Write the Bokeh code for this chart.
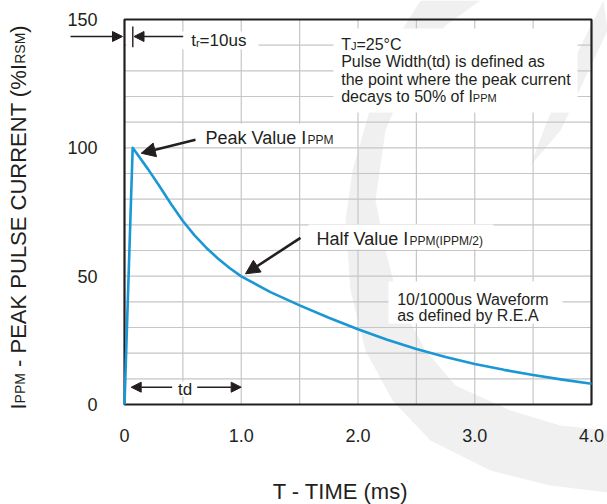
import math
import numpy as np
from bokeh.plotting import figure
from bokeh.models import FixedTicker, Label, Arrow, NormalHead
from bokeh.embed import file_html
from bokeh.resources import INLINE

# ---- data ----
time_ms = [0, 0.07, 0.2, 0.3, 0.4, 0.5, 0.6, 0.7, 0.8, 0.9, 1.0, 1.25, 1.5,
           1.75, 2.0, 2.25, 2.5, 2.75, 3.0, 3.25, 3.5, 3.75, 4.0]
current_pct = [0, 100, 91.8, 85.0, 78.0, 71.5, 65.9, 61.1, 56.9, 53.2, 49.9,
               43.8, 38.6, 33.8, 29.3, 25.2, 21.6, 18.5, 15.8, 13.5, 11.5, 9.7, 8.1]
x_ticks = [0, 1, 2, 3, 4]
x_tick_labels = ["0", "1.0", "2.0", "3.0", "4.0"]
y_ticks = [0, 50, 100, 150]
y_tick_labels = ["0", "50", "100", "150"]

FONT = "Liberation Sans"
INK = "#231f20"
BLUE = "#1a97d5"
GRID = "#c6c6c6"
WATERMARK = "#f0f0f0"

# picture-pixel -> data helpers (plot box: x 124..591, y 19..404 in the picture)
def X(xr):
    return (xr - 124.0) * 4.0 / 467.0

def Y(yr):
    return (404.0 - yr) * 150.0 / 385.0

AW = {' ': 278, '(': 333, ')': 333, '%': 889, '-': 333, '.': 278, '/': 278,
      '=': 584, '°': 400, 'A': 667, 'C': 722, 'E': 667, 'H': 722, 'I': 278,
      'J': 500, 'K': 667, 'L': 556, 'M': 833, 'N': 722, 'P': 667, 'R': 722,
      'S': 667, 'T': 611, 'U': 722, 'V': 667, 'W': 944, 'a': 556, 'c': 500,
      'd': 556, 'e': 556, 'f': 278, 'h': 556, 'i': 222, 'k': 500, 'l': 222,
      'm': 833, 'n': 556, 'o': 556, 'p': 556, 'r': 333, 's': 500, 't': 278,
      'u': 556, 'v': 500, 'w': 722, 'y': 500, 'b': 556}

def tw(s, size):
    return sum(AW.get(c, 556) for c in s) * size / 1000.0

p = figure(width=607, height=504, x_range=(X(0), X(607)), y_range=(Y(504), Y(0)),
           output_backend="svg", toolbar_location=None, min_border=0)
p.background_fill_color = "white"
p.border_fill_color = "white"
p.outline_line_color = None
p.xgrid.visible = False
p.ygrid.visible = False

p.xaxis.ticker = FixedTicker(ticks=x_ticks)
p.yaxis.ticker = FixedTicker(ticks=y_ticks)
p.xaxis.major_label_overrides = {t: l for t, l in zip(x_ticks, x_tick_labels)}
p.yaxis.major_label_overrides = {t: l for t, l in zip(y_ticks, y_tick_labels)}
p.xaxis.fixed_location = 0
p.yaxis.fixed_location = 0
for ax in (p.xaxis, p.yaxis):
    ax.axis_line_color = None
    ax.major_tick_line_color = None
    ax.minor_tick_line_color = None
    ax.major_label_text_font = FONT
    ax.major_label_text_font_size = "18px"
    ax.major_label_text_color = INK
p.xaxis.major_label_standoff = 18
p.yaxis.major_label_standoff = 21

# faint background watermark (decoration)
wm_outer = [(420, 0), (395, 40), (372, 100), (352, 170), (345, 220), (350, 290),
            (365, 350), (392, 400), (430, 440), (490, 470), (550, 485), (607, 492)]
wm_inner = [(607, 430), (560, 425), (510, 410), (455, 385), (425, 350), (398, 300),
            (385, 250), (375, 200), (385, 130), (410, 70), (445, 25), (480, 0)]
wm = wm_outer + wm_inner
p.patch([X(a) for a, b in wm], [Y(b) for a, b in wm], fill_color=WATERMARK,
        line_color=None)
wm2 = [(603, 0), (573, 60), (545, 125), (530, 165), (560, 130), (607, 30)]
p.patch([X(a) for a, b in wm2], [Y(b) for a, b in wm2], fill_color=WATERMARK,
        line_color=None)

# grid lines every 0.5 ms and every 10 %
gx = np.arange(0.5, 4.0, 0.5)
gy = np.arange(10, 150, 10)
p.segment(x0=gx, y0=0, x1=gx, y1=150, line_color=GRID, line_width=1.2)
p.segment(x0=0, y0=gy, x1=4, y1=gy, line_color=GRID, line_width=1.2)

# white backgrounds behind the annotation texts
boxes = [(126, 258, 31, 49), (333, 577, 28, 112), (197, 334, 123, 146.5),
         (308, 493, 224, 249), (388, 562, 281, 323), (172, 196, 381, 396)]
p.quad(left=[X(b[0]) for b in boxes], right=[X(b[1]) for b in boxes],
       top=[Y(b[2]) for b in boxes], bottom=[Y(b[3]) for b in boxes],
       fill_color="white", line_color=None)

# plot box
p.quad(left=[0], right=[4], bottom=[0], top=[150], fill_color=None,
       line_color=INK, line_width=2.2)

# waveform
p.line(time_ms, current_pct, line_color=BLUE, line_width=2.6, line_join="round")

# tr marker
p.segment(x0=[X(132.3)], y0=[Y(26)], x1=[X(132.3)], y1=[Y(46.7)],
          line_color=INK, line_width=1.4)

def head(s):
    return NormalHead(size=s, fill_color=INK, line_color=INK, line_width=1)

def arrow(x0, y0, x1, y1, lw, hs):
    p.add_layout(Arrow(end=head(hs), x_start=X(x0), y_start=Y(y0),
                       x_end=X(x1), y_end=Y(y1), line_color=INK, line_width=lw))

arrow(70, 36, 122, 36, 1.6, 10)
arrow(182.7, 36, 133.5, 36, 1.6, 10)
arrow(195, 139.3, 140.7, 152.7, 2.6, 14)
arrow(300, 237.3, 245, 273.3, 2.6, 14)
arrow(171.7, 386.7, 130.7, 386.7, 1.6, 10)
arrow(196.7, 386.7, 240.7, 386.7, 1.6, 10)

SHIFT = 0.27  # rendered alphabetic baseline sits ~0.27em low; compensate

def run(pieces, xr, yr, vertical=False, align="left"):
    total = sum(tw(t, s) for t, s in pieces)
    pos = -total / 2 if align == "center" else 0.0
    for text, size in pieces:
        core = text.lstrip(" ")
        pos += tw(text[:len(text) - len(core)], size)
        core_r = core.rstrip(" ")
        d = SHIFT * size
        if vertical:
            lab = Label(x=X(xr - d), y=Y(yr - pos), angle=math.pi / 2, text=core_r)
        else:
            lab = Label(x=X(xr + pos), y=Y(yr - d), text=core_r)
        lab.text_font = FONT
        lab.text_font_size = f"{size}px"
        lab.text_color = INK
        lab.text_baseline = "alphabetic"
        lab.text_align = "left"
        p.add_layout(lab)
        pos += tw(core, size)

run([("t", 17), ("r", 11), ("=10us", 17)], 190.7, 45)
run([("T", 16), ("J", 11), ("=25°C", 16)], 340.7, 48.3)
run([("Pulse Width(td) is defined as", 16)], 340.7, 65.8)
run([("the point where the peak current", 16)], 340.7, 83.1)
run([("decays to 50% of I", 16), ("PPM", 11)], 340.7, 100.2)
run([("Peak Value I", 18), ("PPM", 12)], 205, 142.7)
run([("Half Value I", 18), ("PPM(IPPM/2)", 12)], 316, 243.3)
run([("10/1000us Waveform", 16)], 396.7, 303.5)
run([("as defined by R.E.A", 16)], 396.7, 319)
run([("td", 17)], 184.5, 393.3, align="center")

# axis titles
run([("T - TIME (ms)", 22)], 340, 497, align="center")
run([("I", 22), ("PPM", 14), (" - PEAK PULSE CURRENT (%", 22), ("I", 22),
     ("RSM", 14), (")", 22)], 23.5, 409, vertical=True)

open("out.html", "w").write(file_html(p, INLINE))
